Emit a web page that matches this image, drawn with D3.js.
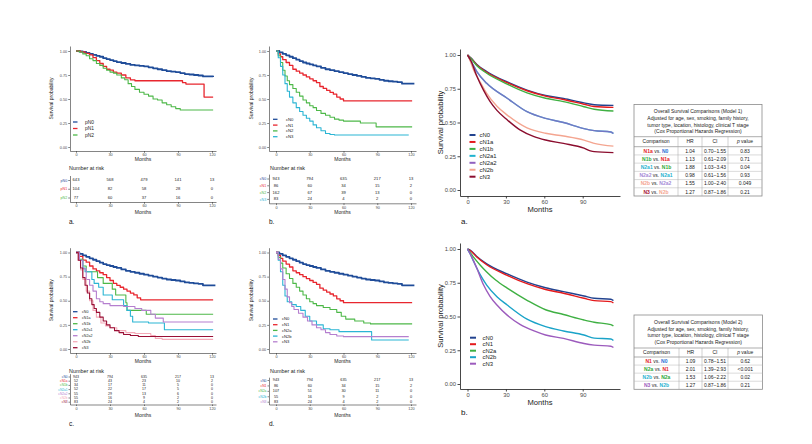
<!DOCTYPE html>
<html><head><meta charset="utf-8">
<script src="https://cdn.jsdelivr.net/npm/d3@7"></script>
<style>body{margin:0;background:#fff;} svg{display:block;}</style>
</head><body><svg id="c" width="812" height="444"></svg>
<script>
// ================= DATA =================
const xTicksLeft = [0, 30, 60, 90, 120];
const xTicksRight = [0, 30, 60, 90];
const yTicks = [0, 0.25, 0.5, 0.75, 1];

// ---- panel a (pathologic N) ----
const aGroups = ["pN0", "pN1", "pN2"];
const a_pN0 = [[0,1],[3,0.995],[6,0.99],[9,0.98],[12,0.97],[15,0.96],[18,0.95],[21,0.94],[24,0.925],[27,0.915],[30,0.905],[33,0.895],[36,0.885],[40,0.875],[44,0.865],[48,0.855],[52,0.85],[56,0.845],[60,0.84],[64,0.83],[68,0.82],[72,0.81],[76,0.8],[80,0.79],[84,0.785],[88,0.78],[92,0.77],[96,0.76],[100,0.755],[104,0.75],[108,0.745],[112,0.735],[121,0.73]];
const a_pN1 = [[0,1],[4,0.99],[8,0.975],[12,0.96],[15,0.93],[18,0.9],[21,0.87],[24,0.84],[27,0.81],[30,0.8],[33,0.78],[36,0.77],[40,0.75],[44,0.72],[48,0.7],[52,0.69],[91,0.69],[94,0.67],[97,0.655],[113,0.52],[121,0.52]];
const a_pN2 = [[0,1],[3,0.99],[6,0.97],[9,0.95],[12,0.92],[15,0.9],[18,0.87],[21,0.85],[24,0.82],[27,0.8],[30,0.78],[33,0.77],[36,0.75],[40,0.72],[43,0.7],[46,0.66],[49,0.63],[52,0.6],[56,0.57],[60,0.55],[64,0.53],[68,0.5],[72,0.49],[76,0.46],[80,0.44],[84,0.42],[88,0.4],[92,0.385],[121,0.385]];
const aRisk_pN0 = [643, 568, 479, 141, 13];
const aRisk_pN1 = [104, 82, 58, 28, 0];
const aRisk_pN2 = [77, 60, 37, 16, 0];

// ---- panel b (clinical N) ----
const bGroups = ["cN0", "cN1", "cN2", "cN3"];
const km_cN0 = [[0,1],[3,0.985],[6,0.97],[9,0.955],[12,0.94],[15,0.925],[18,0.91],[21,0.895],[24,0.88],[27,0.87],[30,0.86],[33,0.85],[36,0.84],[40,0.825],[44,0.81],[48,0.8],[52,0.79],[56,0.78],[60,0.77],[64,0.76],[68,0.75],[72,0.74],[76,0.73],[80,0.72],[84,0.715],[88,0.71],[92,0.7],[96,0.69],[100,0.685],[104,0.68],[108,0.675],[112,0.66],[123,0.66]];
const km_cN1 = [[0,1],[2,0.97],[4,0.94],[6,0.91],[9,0.88],[12,0.85],[15,0.81],[18,0.79],[21,0.77],[24,0.75],[27,0.73],[30,0.71],[33,0.69],[36,0.67],[39,0.63],[42,0.61],[45,0.59],[48,0.57],[51,0.55],[54,0.52],[57,0.5],[60,0.48],[121,0.48]];
const b_cN2 = [[0,1],[2,0.95],[4,0.88],[6,0.8],[8,0.74],[10,0.69],[12,0.65],[15,0.61],[18,0.57],[21,0.53],[24,0.49],[27,0.46],[30,0.43],[33,0.41],[36,0.38],[40,0.35],[44,0.33],[48,0.31],[52,0.29],[56,0.28],[60,0.27],[75,0.25],[89,0.21],[121,0.21]];
const b_cN3 = [[0,1],[2,0.93],[4,0.84],[6,0.75],[8,0.66],[10,0.58],[12,0.52],[15,0.46],[18,0.41],[21,0.37],[24,0.33],[27,0.3],[30,0.27],[33,0.23],[36,0.2],[40,0.17],[44,0.14],[48,0.13],[52,0.125],[118,0.125]];
const risk_cN0 = [943, 794, 635, 217, 13];
const risk_cN1 = [86, 60, 34, 15, 2];
const risk_cN2 = [162, 67, 39, 13, 0];
const risk_cN3 = [83, 24, 4, 2, 0];

// ---- panel c (detailed clinical N) ----
const cGroups = ["cN0", "cN1a", "cN1b", "cN2a1", "cN2a2", "cN2b", "cN3"];
const c_cN1a = [[0,1],[3,0.96],[6,0.92],[9,0.9],[12,0.86],[15,0.83],[18,0.81],[21,0.79],[24,0.77],[27,0.74],[30,0.71],[33,0.68],[36,0.66],[39,0.64],[42,0.62],[45,0.6],[48,0.58],[51,0.56],[54,0.53],[57,0.51],[121,0.51]];
const c_cN1b = [[0,1],[3,0.93],[6,0.86],[9,0.8],[18,0.8],[19,0.74],[24,0.68],[30,0.68],[32,0.62],[35,0.56],[43,0.56],[44,0.48],[45,0.4],[60,0.4],[62,0.36],[121,0.36]];
const c_cN2a1 = [[0,1],[3,0.92],[6,0.84],[8,0.8],[12,0.8],[14,0.72],[16,0.68],[20,0.64],[24,0.56],[30,0.56],[32,0.51],[38,0.51],[42,0.45],[45,0.4],[48,0.34],[50,0.28],[62,0.28],[64,0.27],[76,0.27],[78,0.2],[121,0.2]];
const c_cN2a2 = [[0,1],[3,0.92],[6,0.83],[9,0.72],[12,0.66],[15,0.6],[18,0.52],[21,0.49],[24,0.47],[30,0.45],[42,0.44],[52,0.42],[58,0.4],[66,0.36],[70,0.32],[77,0.28],[121,0.28]];
const c_cN2b = [[0,1],[2,0.92],[4,0.82],[6,0.72],[9,0.6],[12,0.5],[15,0.4],[18,0.33],[22,0.27],[26,0.24],[30,0.22],[36,0.19],[44,0.17],[52,0.16],[60,0.16],[66,0.14],[70,0.11],[76,0.1],[121,0.1]];
const c_cN3 = [[0,1],[2,0.92],[4,0.84],[6,0.74],[8,0.66],[10,0.58],[12,0.52],[14,0.46],[16,0.42],[18,0.38],[21,0.33],[24,0.29],[27,0.25],[30,0.22],[34,0.19],[38,0.17],[42,0.15],[48,0.14],[55,0.13],[121,0.13]];
const risk_cN1a = [52, 43, 23, 10, 2];
const risk_cN1b = [34, 17, 11, 5, 0];
const risk_cN2a1 = [52, 22, 17, 5, 0];
const risk_cN2a2 = [55, 29, 13, 6, 0];
const risk_cN2b = [55, 16, 9, 2, 0];

// ---- panel d ----
const dGroups = ["cN0", "cN1", "cN2a", "cN2b", "cN3"];
const d_cN2a = [[0,1],[2,0.95],[4,0.89],[6,0.84],[9,0.78],[12,0.73],[15,0.68],[18,0.64],[21,0.6],[24,0.56],[27,0.52],[30,0.49],[33,0.47],[36,0.45],[42,0.43],[48,0.41],[54,0.38],[58,0.34],[62,0.31],[70,0.29],[78,0.27],[84,0.26],[121,0.26]];
const d_cN2b = [[0,1],[2,0.92],[4,0.8],[6,0.66],[8,0.55],[10,0.49],[14,0.46],[18,0.44],[22,0.4],[26,0.34],[30,0.29],[36,0.25],[42,0.21],[48,0.2],[56,0.18],[84,0.18],[85,0.093],[118,0.093]];
const d_cN3 = [[0,1],[2,0.93],[4,0.83],[6,0.72],[8,0.62],[10,0.54],[12,0.48],[14,0.44],[16,0.41],[20,0.37],[24,0.33],[28,0.29],[32,0.25],[36,0.22],[40,0.2],[44,0.17],[48,0.15],[54,0.135],[60,0.128],[118,0.128]];
const risk_cN2a = [107, 51, 30, 11, 0];

// ---- right panel a (Model 1 adjusted curves) ----
const m1Groups = ["cN0", "cN1a", "cN1b", "cN2a1", "cN2a2", "cN2b", "cN3"];
const m1_cN0 = [[0,1],[3,0.975],[7.3,0.93],[15,0.878],[31,0.8],[46.5,0.74],[61,0.7],[75,0.678],[91,0.645],[99,0.632],[114,0.627]];
const m1_cN1a = [[0,1],[3,0.973],[7.3,0.926],[15,0.872],[31,0.795],[46.5,0.735],[61,0.695],[75,0.67],[91,0.635],[99,0.618],[114,0.612]];
const m1_cN1b = [[0,1],[3,0.97],[7.3,0.92],[15,0.865],[31,0.785],[46.5,0.72],[61,0.68],[75,0.655],[91,0.617],[99,0.598],[114,0.585]];
const m1_cN2a1 = [[0,1],[3,0.95],[7.3,0.877],[15,0.79],[31,0.68],[46.5,0.58],[61,0.53],[75,0.5],[91,0.455],[99,0.44],[112,0.43],[114,0.418]];
const m1_cN2a2 = [[0,1],[3,0.95],[7.3,0.877],[15,0.79],[31,0.68],[46.5,0.58],[61,0.53],[75,0.5],[91,0.455],[99,0.44],[112,0.43],[114,0.418]];
const m1_cN2b = [[0,1],[2,0.96],[4.7,0.89],[9.9,0.8],[15,0.715],[23,0.62],[31,0.555],[46.5,0.46],[61,0.42],[75,0.4],[91,0.37],[96,0.355],[99,0.345],[114,0.325]];
const m1_cN3 = [[0,1],[3,0.95],[7,0.85],[12.5,0.74],[17.7,0.655],[23,0.59],[31,0.52],[41,0.445],[52,0.395],[61,0.37],[75,0.345],[91,0.31],[96,0.29],[99,0.284],[114,0.277]];

// ---- right panel b (Model 2 adjusted curves) ----
const m2Groups = ["cN0", "cN1", "cN2a", "cN2b", "cN3"];
const m2_cN0 = [[0,1],[3,0.985],[7.3,0.945],[15,0.89],[31,0.815],[46.5,0.755],[61,0.713],[75,0.684],[91,0.652],[99,0.635],[112,0.628],[114,0.618]];
const m2_cN1 = [[0,1],[3,0.982],[7.3,0.94],[15,0.883],[31,0.805],[46.5,0.743],[61,0.7],[75,0.672],[91,0.635],[99,0.618],[112,0.61],[114,0.6]];
const m2_cN2a = [[0,1],[4.7,0.94],[10,0.88],[15,0.83],[22,0.77],[31,0.71],[46.5,0.62],[61,0.55],[75,0.515],[91,0.474],[99,0.457],[112,0.44],[114,0.43]];
const m2_cN2b = [[0,1],[2,0.965],[4.7,0.91],[9.9,0.81],[15,0.733],[23,0.647],[31,0.585],[46.5,0.48],[61,0.425],[75,0.393],[91,0.363],[99,0.34],[112,0.333],[114,0.322]];
const m2_cN3 = [[0,1],[3.4,0.94],[7.3,0.857],[12.5,0.735],[17.7,0.648],[23,0.585],[31,0.51],[41,0.442],[52,0.393],[61,0.363],[75,0.338],[91,0.3],[99,0.288],[112,0.28],[114,0.27]];

// ---- Cox tables ----
const t1Title = ["Overall Survival Comparisons (Model 1)", "Adjusted for age, sex, smoking, family history,", "tumor type, location, histology, clinical T stage", "(Cox Proportional Hazards Regression)"];
const t1Comparisons = [["N1a","N0"],["N1b","N1a"],["N2a1","N1b"],["N2a2","N2a1"],["N2b","N2a2"],["N3","N2b"]];
const t1HR = ["1.04","1.13","1.88","0.98","1.55","1.27"];
const t1CI = ["0.70–1.55","0.61–2.09","1.03–3.43","0.61–1.56","1.00–2.40","0.87–1.86"];
const t1P = ["0.83","0.71","0.04","0.93","0.049","0.21"];
const t2Title = ["Overall Survival Comparisons (Model 2)", "Adjusted for age, sex, smoking, family history,", "tumor type, location, histology, clinical T stage", "(Cox Proportional Hazards Regression)"];
const t2Comparisons = [["N1","N0"],["N2a","N1"],["N2b","N2a"],["N3","N2b"]];
const t2HR = ["1.09","2.01","1.53","1.27"];
const t2CI = ["0.78–1.51","1.39–2.93","1.06–2.22","0.87–1.86"];
const t2P = ["0.62","<0.001","0.02","0.21"];

// ================= STYLE =================
const FONT = "'Liberation Sans', Arial, sans-serif";
const C = {blue:"#1f4c99", red:"#e8262e", green:"#4db848", teal:"#2bb5d4", purple:"#b57fcf", pink:"#f4aab8", dred:"#9a0f35"};
const R = {blue:"#22438f", red:"#e41a1c", green:"#3fb043", cyan:"#1fb3cf", lav:"#9061c0", pink:"#f4a590", dred:"#8b0d2e", teal:"#1aa3c8", purple:"#9c5bbd"};
const t1Colors = {N0:"#2a6fd6", N1a:"#e41a1c", N1b:"#2fa836", N2a1:"#1fb3cf", N2a2:"#a58ad6", N2b:"#f4a590", N3:"#a50f2d"};
const t2Colors = {N0:"#2a6fd6", N1:"#e41a1c", N2a:"#2fa836", N2b:"#1fb3cf", N3:"#9c5bbd"};

const svg = d3.select("#c").attr("font-family", FONT);

function makeScale(v0, p0, v1, p1, pA, pB) {
  const s = d3.scaleLinear().domain([v0, v1]).range([p0, p1]);
  return d3.scaleLinear().domain([s.invert(pA), s.invert(pB)]).range([pA, pB]);
}
function styleAxis(a, o) {
  a.select(".domain").attr("stroke", "#333").attr("stroke-width", o.aw);
  a.selectAll(".tick line").attr("stroke", "#333").attr("stroke-width", o.aw);
  a.selectAll(".tick text").attr("font-size", o.tf).attr("fill", "#4a4a4a").attr("font-family", FONT);
}

function kmPlot(o) {
  const g = svg.append("g");
  const x = makeScale(0, o.x0, 120, o.x120, o.axL, o.axR);
  const y = makeScale(0, o.y0, 1, o.y1, o.axB, o.axT);
  const ax = g.append("g").attr("transform", `translate(0,${o.axB})`)
    .call(d3.axisBottom(x).tickValues(o.xTicks).tickSizeInner(o.tk).tickSizeOuter(0).tickPadding(o.tp).tickFormat(d3.format("d")));
  const ay = g.append("g").attr("transform", `translate(${o.axL},0)`)
    .call(d3.axisLeft(y).tickValues(yTicks).tickSizeInner(o.tk).tickSizeOuter(0).tickPadding(o.tp).tickFormat(d3.format(".2f")));
  styleAxis(ax, o); styleAxis(ay, o);
  const line = d3.line().x(d => x(d[0])).y(d => y(d[1])).curve(o.curve);
  o.series.forEach(s => g.append("path").datum(s.data).attr("d", line)
    .attr("fill", "none").attr("stroke", s.color).attr("stroke-width", s.w || o.lw)
    .attr("stroke-opacity", s.op || 1).attr("stroke-linejoin", "round"));
  g.append("text").attr("x", (o.axL + o.axR) / 2).attr("y", o.monthsY).attr("dy", "0.35em")
    .attr("text-anchor", "middle").attr("font-size", o.lf).attr("fill", "#222").text("Months");
  g.append("text").attr("transform", `translate(${o.survX},${(o.axB + o.axT) / 2}) rotate(-90)`)
    .attr("dy", "0.35em").attr("text-anchor", "middle").attr("font-size", o.lf).attr("fill", "#222").text("Survival probability");
  o.series.forEach((s, i) => {
    const ly = o.legY + i * o.legStep;
    g.append("line").attr("x1", o.legX).attr("x2", o.legX + o.legW).attr("y1", ly).attr("y2", ly)
      .attr("stroke", s.color).attr("stroke-width", o.legLW);
    g.append("text").attr("x", o.legTX).attr("y", ly).attr("dy", "0.35em")
      .attr("font-size", o.legF).attr("fill", "#222").text(s.name);
  });
  if (o.tag) svg.append("text").attr("x", o.tag[0]).attr("y", o.tag[1]).attr("font-size", o.tagF || 6.5).attr("fill", "#111").text(o.tag[2]);
  return x;
}

function riskTable(o, x) {
  const g = svg.append("g");
  g.append("text").attr("x", o.titleX).attr("y", o.titleY).attr("dy", "0.35em")
    .attr("font-size", o.titleF).attr("fill", "#222").text("Number at risk");
  const n = o.groups.length;
  const step = (o.rLast - o.rFirst) / (n - 1);
  const pad = (o.axB - o.rLast) / step;
  const yr = d3.scalePoint().domain(o.groups).range([o.rFirst - step * pad, o.axB]).padding(pad);
  const ay = g.append("g").attr("transform", `translate(${o.axL},0)`)
    .call(d3.axisLeft(yr).tickSizeInner(o.tk).tickSizeOuter(0).tickPadding(o.tp));
  styleAxis(ay, o);
  ay.selectAll(".tick text").attr("fill", (d, i) => o.colors[i]).attr("font-size", o.lblF);
  const ax = g.append("g").attr("transform", `translate(0,${o.axB})`)
    .call(d3.axisBottom(x).tickValues(xTicksLeft).tickSizeInner(o.tk).tickSizeOuter(0).tickPadding(o.tp).tickFormat(d3.format("d")));
  styleAxis(ax, o);
  o.groups.forEach((gname, i) => {
    o.risk[i].forEach((v, j) => {
      g.append("text").attr("x", x(xTicksLeft[j])).attr("y", yr(gname)).attr("dy", "0.35em")
        .attr("text-anchor", "middle").attr("font-size", o.numF).attr("fill", "#222").text(v);
    });
  });
  g.append("text").attr("x", (o.axL + o.axR) / 2).attr("y", o.monthsY).attr("dy", "0.35em")
    .attr("text-anchor", "middle").attr("font-size", o.lf).attr("fill", "#222").text("Months");
}

function coxTable(o) {
  const g = svg.append("g");
  const cx = (o.left + o.right) / 2;
  o.title.forEach((t, i) => g.append("text").attr("x", cx).attr("y", o.top + o.t0 + i * o.tStep)
    .attr("dy", "0.35em").attr("text-anchor", "middle").attr("font-size", o.f).attr("fill", "#222").text(t));
  const nRows = o.comp.length;
  const rowY = d3.scaleBand().domain(d3.range(nRows)).range([o.hdrBot, o.bottom]);
  g.append("rect").attr("x", o.left).attr("y", o.top).attr("width", o.right - o.left).attr("height", o.bottom - o.top)
    .attr("fill", "none").attr("stroke", "#8a8a8a").attr("stroke-width", 0.8);
  [o.sep, o.hdrBot].forEach(yy => g.append("line").attr("x1", o.left).attr("x2", o.right).attr("y1", yy).attr("y2", yy)
    .attr("stroke", "#8a8a8a").attr("stroke-width", 0.7));
  d3.range(1, nRows).forEach(i => g.append("line").attr("x1", o.left).attr("x2", o.right)
    .attr("y1", rowY(i)).attr("y2", rowY(i)).attr("stroke", "#b5b5b5").attr("stroke-width", 0.5));
  o.cols.forEach(cxv => g.append("line").attr("x1", cxv).attr("x2", cxv).attr("y1", o.sep).attr("y2", o.bottom)
    .attr("stroke", "#a0a0a0").attr("stroke-width", 0.5));
  const edges = [o.left, ...o.cols, o.right];
  const centers = d3.range(4).map(i => (edges[i] + edges[i + 1]) / 2);
  const hy = (o.sep + o.hdrBot) / 2;
  ["Comparison", "HR", "CI"].forEach((h, i) => g.append("text").attr("x", centers[i]).attr("y", hy).attr("dy", "0.35em")
    .attr("text-anchor", "middle").attr("font-size", o.f).attr("fill", "#222").text(h));
  const pv = g.append("text").attr("x", centers[3]).attr("y", hy).attr("dy", "0.35em")
    .attr("text-anchor", "middle").attr("font-size", o.f).attr("fill", "#222");
  pv.append("tspan").attr("font-style", "italic").text("p");
  pv.append("tspan").text(" value");
  o.comp.forEach((c, i) => {
    const yy = rowY(i) + rowY.bandwidth() / 2;
    const t = g.append("text").attr("x", centers[0]).attr("y", yy).attr("dy", "0.35em")
      .attr("text-anchor", "middle").attr("font-size", o.f).attr("fill", "#222");
    t.append("tspan").attr("fill", o.colors[c[0]]).attr("font-weight", "bold").text(c[0]);
    t.append("tspan").text(" vs. ");
    t.append("tspan").attr("fill", o.colors[c[1]]).attr("font-weight", "bold").text(c[1]);
    [o.hr[i], o.ci[i], o.p[i]].forEach((v, j) => g.append("text").attr("x", centers[j + 1]).attr("y", yy)
      .attr("dy", "0.35em").attr("text-anchor", "middle").attr("font-size", o.f).attr("fill", "#222").text(v));
  });
}

// ================= DRAW =================
const leftCommon = {xTicks: xTicksLeft, tk: 1.8, tp: 1, aw: 0.6, tf: 3.8, lf: 5, lw: 1.1, curve: d3.curveStepAfter, legW: 4.5, legLW: 1.3};
const topY = {y0: 147, y1: 51, axB: 151, axT: 46, monthsY: 159.5, survX: 51.7};
const botY = {y0: 349, y1: 252.5, axB: 353, axT: 247.7, monthsY: 361.7, survX: 51.7};
const colA = {x0: 76, x120: 212, axL: 70, axR: 216};
const colB = {x0: 276, x120: 411, axL: 269, axR: 416};

// panel a
const xa = kmPlot(Object.assign({}, leftCommon, topY, colA, {
  series: [{name: "pN0", color: C.blue, data: a_pN0, w: 1.8}, {name: "pN1", color: C.red, data: a_pN1, w: 1.3}, {name: "pN2", color: C.green, data: a_pN2}],
  legY: 122, legStep: 6.5, legX: 73, legTX: 85, legF: 4.9, tag: [69, 224, "a."]
}));
riskTable({groups: aGroups, colors: [C.blue, C.red, C.green], risk: [aRisk_pN0, aRisk_pN1, aRisk_pN2],
  titleX: 69, titleY: 168, titleF: 5.4, rFirst: 180, rLast: 197.5, axB: 202, axL: 70, axR: 216,
  tk: 1.8, tp: 1, aw: 0.6, tf: 3.8, lblF: 3.6, numF: 4.1, lf: 5, monthsY: 212}, xa);

// panel b
const xb = kmPlot(Object.assign({}, leftCommon, topY, colB, {
  survX: 251.7,
  series: [{name: "cN0", color: C.blue, data: km_cN0, w: 1.8}, {name: "cN1", color: C.red, data: km_cN1, w: 1.3}, {name: "cN2", color: C.green, data: b_cN2}, {name: "cN3", color: C.teal, data: b_cN3}],
  legY: 119.3, legStep: 5.8, legX: 273, legTX: 286, legF: 4.2, tag: [269, 224, "b."]
}));
riskTable({groups: bGroups, colors: [C.blue, C.red, C.green, C.teal], risk: [risk_cN0, risk_cN1, risk_cN2, risk_cN3],
  titleX: 270, titleY: 168, titleF: 5.4, rFirst: 178.5, rLast: 198.9, axB: 203.3, axL: 269, axR: 416,
  tk: 1.8, tp: 1, aw: 0.6, tf: 3.8, lblF: 3.6, numF: 4.1, lf: 5, monthsY: 212}, xb);

// panel c
const xc = kmPlot(Object.assign({}, leftCommon, botY, colA, {
  series: [{name: "cN0", color: C.blue, data: km_cN0, w: 1.8}, {name: "cN1a", color: C.red, data: c_cN1a, w: 1.3},
    {name: "cN1b", color: C.green, data: c_cN1b}, {name: "cN2a1", color: C.teal, data: c_cN2a1},
    {name: "cN2a2", color: C.purple, data: c_cN2a2}, {name: "cN2b", color: C.pink, data: c_cN2b}, {name: "cN3", color: C.dred, data: c_cN3}],
  legY: 311.7, legStep: 6, legX: 73, legTX: 82, legF: 3.6, tag: [69, 426, "c."]
}));
riskTable({groups: cGroups, colors: [C.blue, C.red, C.green, C.teal, C.purple, C.pink, C.dred],
  risk: [risk_cN0, risk_cN1a, risk_cN1b, risk_cN2a1, risk_cN2a2, risk_cN2b, risk_cN3],
  titleX: 69, titleY: 370.7, titleF: 5.4, rFirst: 376.5, rLast: 401.7, axB: 404.5, axL: 70, axR: 216,
  tk: 1.5, tp: 1, aw: 0.6, tf: 3.8, lblF: 3.2, numF: 3.5, lf: 5, monthsY: 415}, xc);

// panel d
const xd = kmPlot(Object.assign({}, leftCommon, botY, colB, {
  survX: 251.7,
  series: [{name: "cN0", color: C.blue, data: km_cN0, w: 1.8}, {name: "cN1", color: C.red, data: km_cN1, w: 1.3},
    {name: "cN2a", color: C.green, data: d_cN2a}, {name: "cN2b", color: C.teal, data: d_cN2b}, {name: "cN3", color: C.purple, data: d_cN3}],
  legY: 319, legStep: 5.7, legX: 273, legTX: 282, legF: 4.1, tag: [269, 426, "d."]
}));
riskTable({groups: dGroups, colors: [C.blue, C.red, C.green, C.teal, C.purple],
  risk: [risk_cN0, risk_cN1, risk_cN2a, risk_cN2b, risk_cN3],
  titleX: 270, titleY: 370.7, titleF: 5.4, rFirst: 380, rLast: 401.7, axB: 404.5, axL: 269, axR: 416,
  tk: 1.5, tp: 1, aw: 0.6, tf: 3.8, lblF: 3.4, numF: 3.8, lf: 5, monthsY: 415}, xd);

// right panels
const rightCommon = {xTicks: xTicksRight, tk: 2.5, tp: 1.5, aw: 0.9, tf: 5.8, lf: 7.6, lw: 1.4, curve: d3.curveMonotoneX,
  x0: 467.5, x120: 621.1, axL: 460, axR: 620, survX: 440, legW: 6, legLW: 2, legF: 5.9, tagF: 8};
kmPlot(Object.assign({}, rightCommon, {
  y0: 190, y1: 55, axB: 196, axT: 49, monthsY: 209.3,
  series: [{name: "cN0", color: R.blue, data: m1_cN0}, {name: "cN1a", color: R.red, data: m1_cN1a},
    {name: "cN1b", color: R.green, data: m1_cN1b}, {name: "cN2a1", color: R.cyan, data: m1_cN2a1},
    {name: "cN2a2", color: R.lav, data: m1_cN2a2, op: 0.75}, {name: "cN2b", color: R.pink, data: m1_cN2b}, {name: "cN3", color: R.dred, data: m1_cN3}],
  legY: 135, legStep: 6.95, legX: 469.5, legTX: 479.5, tag: [461, 224, "a."]
}));
kmPlot(Object.assign({}, rightCommon, {
  y0: 384, y1: 249, axB: 389, axT: 243, monthsY: 402.7,
  series: [{name: "cN0", color: R.blue, data: m2_cN0}, {name: "cN1", color: R.red, data: m2_cN1},
    {name: "cN2a", color: R.green, data: m2_cN2a}, {name: "cN2b", color: R.teal, data: m2_cN2b}, {name: "cN3", color: R.purple, data: m2_cN3}],
  legY: 337.7, legStep: 6.5, legX: 470, legTX: 482.5, tag: [461, 415, "b."]
}));

// tables
coxTable({title: t1Title, comp: t1Comparisons, hr: t1HR, ci: t1CI, p: t1P, colors: t1Colors,
  left: 634, right: 762, top: 104.5, t0: 7, tStep: 6.7, sep: 136.7, hdrBot: 146.7, bottom: 196, cols: [678, 702, 728], f: 5});
coxTable({title: t2Title, comp: t2Comparisons, hr: t2HR, ci: t2CI, p: t2P, colors: t2Colors,
  left: 634, right: 762.5, top: 315, t0: 7, tStep: 6.8, sep: 348, hdrBot: 357, bottom: 389.3, cols: [679, 702, 728], f: 5});
</script>
</body></html>
